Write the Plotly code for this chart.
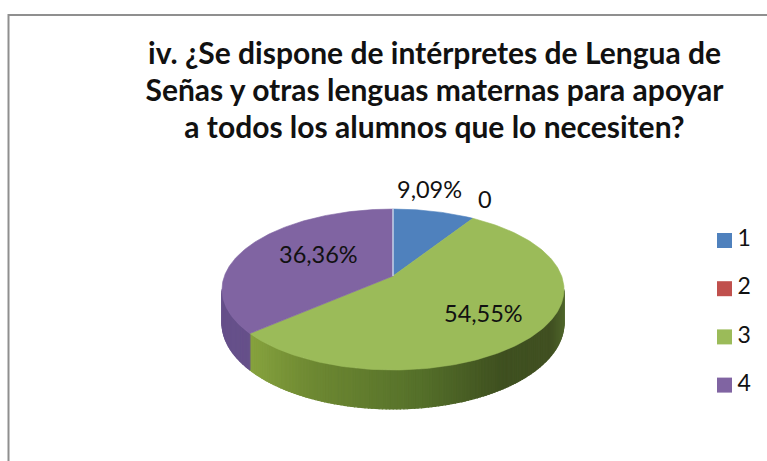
import numpy as np
import plotly.graph_objects as go

# ---- data ----
categories = ["1", "2", "3", "4"]
values = [1, 0, 6, 4]
percent_labels = ["9,09%", "0", "54,55%", "36,36%"]
title_lines = [
    "iv. ¿Se dispone de intérpretes de Lengua de",
    "Señas y otras lenguas maternas para apoyar",
    "a todos los alumnos que lo necesiten?",
]

# ---- styles ----
top_colors = ["#4f81bd", "#c0504d", "#9bbb59", "#8064a2"]
wall_colors = {2: None, 3: "#66508a"}
green_wall_stops = [(0.0, "#8ba844"), (0.06, "#8aa640"), (0.25, "#6f8a33"),
                    (0.58, "#55702a"), (0.82, "#3f5020"), (0.96, "#415122"), (1.0, "#50662c")]
FONT = "Lato"
INK = "#111111"

# ---- projection of the tilted pie into the pixel-scaled axes ----
CX, CY, R, S, K, D = 393.0, 276.0, 168.6, 78.2, 0.168, 32.4


def project(theta, r=1.0):
    u, v = np.sin(theta) * r, np.cos(theta) * r
    w = 1 + K * v
    return CX + R * u / w, CY - S * v / w


def depth(theta):
    return D / (1 + K * np.cos(theta))


def hex2rgb(h):
    return np.array([int(h[i:i + 2], 16) for i in (1, 3, 5)], dtype=float)


def green_wall(t):
    xs = [s[0] for s in green_wall_stops]
    cs = np.array([hex2rgb(s[1]) for s in green_wall_stops])
    c = [np.interp(t, xs, cs[:, j]) for j in range(3)]
    return "rgb(%d,%d,%d)" % tuple(int(x) for x in c)


frac = np.array(values, dtype=float) / sum(values)
edges = np.concatenate([[0], np.cumsum(frac)]) * 2 * np.pi

fig = go.Figure()

# side wall: only the near half of the rim can be seen
vis_a, vis_b = np.arccos(-K), 2 * np.pi - np.arccos(-K)
xl, xr = project(vis_b)[0], project(vis_a)[0]
for i in range(len(values)):
    a, b = max(edges[i], vis_a), min(edges[i + 1], vis_b)
    if b <= a:
        continue
    n = max(1, int((b - a) / np.radians(1.0)))
    cuts = np.linspace(a, b, n + 1)
    for t0, t1 in zip(cuts[:-1], cuts[1:]):
        th = np.linspace(t0, t1, 3)
        x, y = project(th)
        yb = y + depth(th)
        px = np.concatenate([x, x[::-1], x[:1]])
        py = np.concatenate([y, yb[::-1], y[:1]])
        mid = (project((t0 + t1) / 2)[0] - xl) / (xr - xl)
        col = green_wall(mid) if i == 2 else wall_colors[i]
        fig.add_trace(go.Scatter(x=px, y=py, mode="lines", fill="toself", fillcolor=col,
                                 line=dict(color=col, width=1.2), hoverinfo="skip", showlegend=False))

# top surface
for i in range(len(values)):
    if values[i] == 0:
        continue
    th = np.linspace(edges[i], edges[i + 1], 200)
    x, y = project(th)
    px = np.concatenate([[CX], x, [CX]])
    py = np.concatenate([[CY], y, [CY]])
    fig.add_trace(go.Scatter(x=px, y=py, mode="lines", fill="toself", fillcolor=top_colors[i],
                             line=dict(color=top_colors[i], width=0.6),
                             name=categories[i], hoverinfo="name", showlegend=False))

# light seam at the first slice's start
x0, y0 = project(np.array([0.0]))
fig.add_trace(go.Scatter(x=[CX, x0[0]], y=[CY, y0[0]], mode="lines",
                         line=dict(color="#c3d3ea", width=1.5), hoverinfo="skip", showlegend=False))

# legend
LEG_X, LEG_TOP, LEG_STEP, LEG_GAP = 724.5, 240.5, 48.2, 13
leg_y = [LEG_TOP + j * LEG_STEP for j in range(len(categories))]
fig.add_trace(go.Scatter(
    x=[LEG_X] * len(categories), y=leg_y, mode="markers",
    marker=dict(symbol="square", size=15, color=top_colors), hoverinfo="skip", showlegend=False))
fig.add_trace(go.Scatter(
    x=[LEG_X + LEG_GAP] * len(categories), y=leg_y,
    mode="text", text=categories, textposition="middle right",
    textfont=dict(family=FONT, size=23, color=INK), hoverinfo="skip", showlegend=False))

# data labels
label_shift = [(5, -37), (30, -32), (-14, -5), (35, 1)]
annotations = []
for i, txt in enumerate(percent_labels):
    mid = (edges[i] + edges[i + 1]) / 2
    ax, ay = project(mid, 0.75)
    annotations.append(dict(x=float(ax), y=float(ay), xref="x", yref="y", text=txt, showarrow=False,
                            xshift=label_shift[i][0], yshift=-label_shift[i][1],
                            font=dict(family=FONT, size=23.5, color=INK)))

title_html = "<br>".join('<span style="font-size:30px">%s</span>' % t for t in title_lines)

fig.update_layout(
    width=767, height=461, autosize=False,
    margin=dict(l=0, r=0, t=0, b=0),
    paper_bgcolor="white", plot_bgcolor="white",
    showlegend=False,
    title=dict(text=title_html, x=434.5 / 767, xanchor="center", y=1 - 63.5 / 461, yanchor="top",
               font=dict(family=FONT, size=28.5, color=INK, weight="bold")),
    xaxis=dict(range=[0, 767], visible=False, fixedrange=True),
    yaxis=dict(range=[461, 0], visible=False, fixedrange=True),
    annotations=annotations,
    shapes=[dict(type="path", xref="x", yref="y", path="M 8.5 470 L 8.5 15 L 780 15",
                 line=dict(color="#8f8f8f", width=2), layer="below")],
)

fig.write_html("out.html", post_script="document.body.style.margin='0';", config=dict(displayModeBar=False))
